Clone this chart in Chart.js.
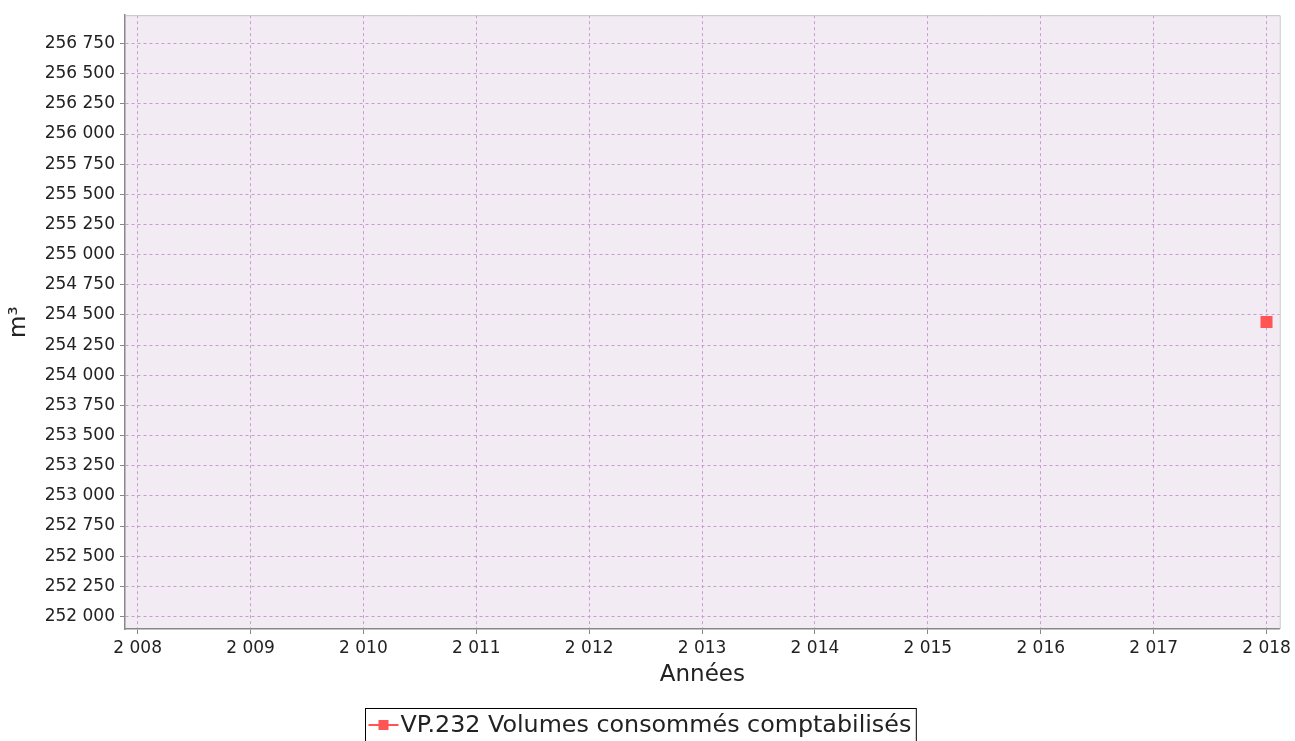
<!DOCTYPE html>
<html>
<head>
<meta charset="utf-8">
<script src="https://cdn.jsdelivr.net/npm/chart.js@4/dist/chart.umd.min.js"></script>
<style>
  body { margin: 0; background: #fff; }
  #wrap { width: 1295px; height: 741px; }
</style>
</head>
<body>
<div id="wrap"><canvas id="myChart" width="1295" height="741"></canvas></div>
<script>
// values
var years = [2018];
var volumes = [254441];
var seriesLabel = "VP.232 Volumes consommés comptabilisés";

var xTicks = [2008, 2009, 2010, 2011, 2012, 2013, 2014, 2015, 2016, 2017, 2018];
var yTicks = [252000, 252250, 252500, 252750, 253000, 253250, 253500, 253750, 254000, 254250,
              254500, 254750, 255000, 255250, 255500, 255750, 256000, 256250, 256500, 256750];

// thousands with a space, like "256 750"
function fmt(v){
    return String(Math.round(v)).replace(/\B(?=(\d{3})+(?!\d))/g, " ");
}

var FONT = "'DejaVu Sans', sans-serif";
var red = "#ff5555";
var gridCol = "#c89ccf";

// plot background + top/right frame + boxed legend
var plotFrame = {
    id: "plotFrame",
    beforeDraw: function(chart){
        var a = chart.chartArea, ctx = chart.ctx;
        ctx.save();
        ctx.fillStyle = "#f2ebf3";
        ctx.fillRect(a.left, a.top, a.right - a.left, a.bottom - a.top);
        ctx.restore();
    },
    afterDraw: function(chart){
        var a = chart.chartArea, ctx = chart.ctx;
        ctx.save();
        ctx.strokeStyle = "#c4c4c4";
        ctx.lineWidth = 1;
        ctx.beginPath();
        ctx.moveTo(a.left, a.top + 0.5);
        ctx.lineTo(a.right + 0.5, a.top + 0.5);
        ctx.lineTo(a.right + 0.5, a.bottom);
        ctx.stroke();

        // legend
        var ds = chart.data.datasets[0];
        ctx.font = "23.8px " + FONT;
        var w = ctx.measureText(ds.label).width;
        var total = 3 + 30 + 2 + w + 5;
        var left = Math.round(chart.width / 2 - 7 - total / 2) + 0.5;
        var top = 708.5;
        ctx.strokeStyle = "#000";
        ctx.strokeRect(left, top, total, 40);
        var cy = 725;
        ctx.strokeStyle = ds.backgroundColor;
        ctx.lineWidth = 2;
        ctx.beginPath();
        ctx.moveTo(left + 3, cy);
        ctx.lineTo(left + 33, cy);
        ctx.stroke();
        ctx.fillStyle = ds.backgroundColor;
        ctx.fillRect(left + 13, cy - 5, 10, 10);
        ctx.fillStyle = "#222";
        ctx.textBaseline = "middle";
        ctx.fillText(ds.label, left + 35, cy + 1);
        ctx.restore();
    }
};

new Chart("myChart", {
    type: "scatter",
    data: {
        datasets: [{
            label: seriesLabel,
            data: years.map(function(y, i){ return {x: y, y: volumes[i]}; }),
            backgroundColor: red,
            borderColor: red,
            borderWidth: 0,
            pointStyle: "rect",
            pointRadius: 8.5,
            pointHoverRadius: 8.5
        }]
    },
    options: {
        responsive: false,
        animation: false,
        devicePixelRatio: 1,
        layout: { padding: { top: 12, right: 15, left: 0, bottom: 0 } },
        plugins: {
            legend: { display: false },
            tooltip: { enabled: false }
        },
        scales: {
            x: {
                type: "linear",
                min: 2007.888,
                max: 2018.117,
                afterBuildTicks: function(scale){
                    scale.ticks = xTicks.map(function(v){ return {value: v}; });
                },
                afterFit: function(scale){ scale.height = 112; },
                ticks: {
                    callback: function(v){ return fmt(v); },
                    font: { family: FONT, size: 17 },
                    color: "#222",
                    padding: 4,
                    maxRotation: 0,
                    autoSkip: false
                },
                grid: {
                    color: gridCol,
                    lineWidth: 1,
                    drawTicks: true,
                    tickLength: 5,
                    tickColor: "#888",
                    tickBorderDash: []
                },
                border: { display: true, color: "#888", width: 1.5, dash: [3, 3] },
                title: {
                    display: true,
                    text: "Années",
                    font: { family: FONT, size: 23 },
                    color: "#222",
                    padding: { top: 0, bottom: 52 }
                }
            },
            y: {
                type: "linear",
                min: 251896.6,
                max: 256985.4,
                afterBuildTicks: function(scale){
                    scale.ticks = yTicks.map(function(v){ return {value: v}; });
                },
                afterFit: function(scale){ scale.width = 125; },
                ticks: {
                    callback: function(v){ return fmt(v); },
                    font: { family: FONT, size: 17 },
                    color: "#222",
                    padding: 5,
                    autoSkip: false
                },
                grid: {
                    color: gridCol,
                    lineWidth: 1,
                    drawTicks: true,
                    tickLength: 5,
                    tickColor: "#888",
                    tickBorderDash: []
                },
                border: { display: true, color: "#888", width: 1.5, dash: [3, 3] },
                title: {
                    display: true,
                    text: "m³",
                    font: { family: FONT, size: 23 },
                    color: "#222",
                    padding: { top: 5, bottom: 0 }
                }
            }
        }
    },
    plugins: [plotFrame]
});
</script>
</body>
</html>
